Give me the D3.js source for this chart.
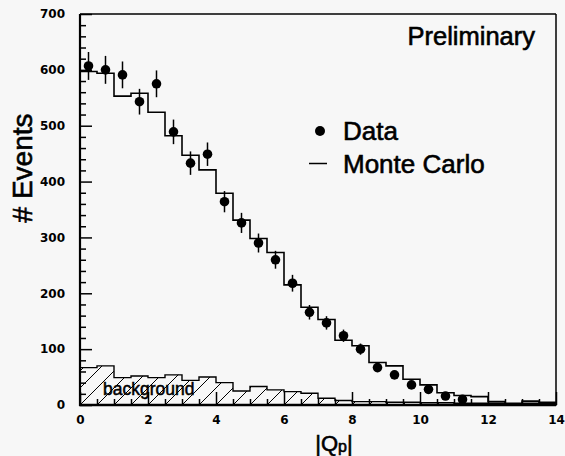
<!DOCTYPE html>
<html>
<head>
<meta charset="utf-8">
<script src="https://cdn.jsdelivr.net/npm/d3@7/dist/d3.min.js"></script>
<style>
  html, body { margin: 0; padding: 0; background: #f7f7f7; }
  svg { display: block; }
</style>
</head>
<body>
<svg id="chart" width="565" height="456"></svg>
<script>
// |Qp| distribution: data points with Poisson errors, Monte Carlo histogram, background histogram
const binEdgesStart = 0, binWidth = 0.5;

// data points at bin centres 0.25 ... 11.25
const dataX = [0.25, 0.75, 1.25, 1.75, 2.25, 2.75, 3.25, 3.75, 4.25, 4.75, 5.25, 5.75,
               6.25, 6.75, 7.25, 7.75, 8.25, 8.75, 9.25, 9.75, 10.25, 10.75, 11.25];
const dataY = [607, 600, 591, 543, 575, 489, 433, 449, 364, 326, 290, 260,
               218, 166, 147, 124, 100, 67, 54, 36, 28, 16, 10];
const dataErr = [25, 25, 24, 23, 24, 22, 21, 21, 19, 18, 17, 16,
                 15, 13, 12, 11, 10, 8, 7, 6, 5, 4, 3];

// Monte Carlo histogram, bins of 0.5 from 0 to 14
const mcCounts = [597, 594, 553, 558, 524, 482, 447, 421, 379, 331, 298, 273,
                  215, 175, 153, 116, 106, 76, 70, 46, 36, 22, 17, 15, 6, 3, 7, 5];

// background histogram, same binning
const bgCounts = [67, 70, 49, 52, 49, 54, 44, 50, 40, 25, 33, 27,
                  24, 21, 12, 8, 6, 6, 5, 5, 4, 4, 3, 3, 3, 2, 3, 3];

const xMajor = [0, 2, 4, 6, 8, 10, 12, 14];
const yMajor = [0, 100, 200, 300, 400, 500, 600, 700];

const svg = d3.select("#chart");
const x = d3.scaleLinear().domain([0, 14]).range([80, 556]);
const y = d3.scaleLinear().domain([0, 700]).range([405, 14]);

const font = "Liberation Sans, Arial, Helvetica, sans-serif";
const tickFont = "DejaVu Sans, sans-serif";

// hatch pattern for the background histogram
const defs = svg.append("defs");
const pat = defs.append("pattern")
  .attr("id", "hatch").attr("patternUnits", "userSpaceOnUse")
  .attr("width", 17).attr("height", 17)
  .attr("patternTransform", "translate(80,405)");
pat.append("path").attr("d", "M0,17 L17,0 M-4,4 L4,-4 M13,21 L21,13")
  .attr("stroke", "#000").attr("stroke-width", 1);

// turn counts into a step outline
function stepPoints(counts) {
  const pts = [[binEdgesStart, 0]];
  counts.forEach((c, i) => {
    const x0 = binEdgesStart + i * binWidth;
    pts.push([x0, c], [x0 + binWidth, c]);
  });
  pts.push([binEdgesStart + counts.length * binWidth, 0]);
  return pts;
}
const line = d3.line().x(d => x(d[0])).y(d => y(d[1]));

// background: hatched area with outline
const bgPts = stepPoints(bgCounts);
svg.append("path").attr("d", line(bgPts) + "Z")
  .attr("fill", "url(#hatch)").attr("stroke", "#000").attr("stroke-width", 1.4);

// background label
svg.append("text").attr("x", 103).attr("y", 395)
  .attr("font-family", font).attr("font-size", 17.5)
  .attr("fill", "#000").attr("stroke", "#000").attr("stroke-width", 0.5)
  .text("background");

// Monte Carlo histogram outline
const mcPts = stepPoints(mcCounts).slice(1);
svg.append("path").attr("d", line(mcPts))
  .attr("fill", "none").attr("stroke", "#000").attr("stroke-width", 1.6);

// axes with inward ticks
const yMinor = d3.range(0, 701, 20).filter(v => v % 100 !== 0);
const xMinor = d3.range(0, 14.01, 0.5).filter(v => v % 2 !== 0);

function styleTicks(g) {
  g.select(".domain").remove();
  g.selectAll("line").attr("stroke-width", 1.5);
  g.selectAll("text").attr("font-family", tickFont).attr("font-weight", "bold")
    .attr("font-size", 12).attr("fill", "#000");
}

svg.append("g").attr("transform", "translate(80,0)")
  .call(d3.axisLeft(y).tickValues(yMinor).tickSize(-6).tickFormat(""))
  .call(styleTicks);
svg.append("g").attr("transform", "translate(80,0)")
  .call(d3.axisLeft(y).tickValues(yMajor).tickSize(-12).tickPadding(15).tickFormat(d3.format("d")))
  .call(styleTicks);

svg.append("g").attr("transform", "translate(0,405)")
  .call(d3.axisBottom(x).tickValues(xMinor).tickSize(-6).tickFormat(""))
  .call(styleTicks);
svg.append("g").attr("transform", "translate(0,405)")
  .call(d3.axisBottom(x).tickValues(xMajor).tickSize(-13).tickPadding(10).tickFormat(d3.format("d")))
  .call(styleTicks);

// frame
svg.append("line").attr("x1", x(0)).attr("x2", x(14)).attr("y1", y(700)).attr("y2", y(700))
  .attr("stroke", "#000").attr("stroke-width", 1.5);
svg.append("line").attr("x1", x(14)).attr("x2", x(14)).attr("y1", y(700)).attr("y2", y(0))
  .attr("stroke", "#000").attr("stroke-width", 1.5);
svg.append("line").attr("x1", x(0)).attr("x2", x(0)).attr("y1", y(700)).attr("y2", y(0) + 1)
  .attr("stroke", "#000").attr("stroke-width", 2.2);
svg.append("line").attr("x1", x(0) - 1).attr("x2", x(14)).attr("y1", y(0)).attr("y2", y(0))
  .attr("stroke", "#000").attr("stroke-width", 2.4);

// data: error bars and markers
const pts = dataX.map((v, i) => ({ x: v, y: dataY[i], e: dataErr[i] }));
svg.append("g").selectAll("line").data(pts).join("line")
  .attr("x1", d => x(d.x)).attr("x2", d => x(d.x))
  .attr("y1", d => y(d.y + d.e)).attr("y2", d => y(d.y - d.e))
  .attr("stroke", "#000").attr("stroke-width", 1.5);
svg.append("g").selectAll("circle").data(pts).join("circle")
  .attr("cx", d => x(d.x)).attr("cy", d => y(d.y)).attr("r", 4.8).attr("fill", "#000");

// legend
svg.append("circle").attr("cx", 320).attr("cy", 131).attr("r", 5).attr("fill", "#000");
svg.append("text").attr("x", 343).attr("y", 140).attr("font-family", font).attr("font-size", 26)
  .attr("stroke", "#000").attr("stroke-width", 0.6).text("Data");
svg.append("line").attr("x1", 309).attr("x2", 327).attr("y1", 163.5).attr("y2", 163.5)
  .attr("stroke", "#000").attr("stroke-width", 1.5);
svg.append("text").attr("x", 343).attr("y", 173).attr("font-family", font).attr("font-size", 26)
  .attr("stroke", "#000").attr("stroke-width", 0.6).text("Monte Carlo");

// annotation
svg.append("text").attr("x", 535).attr("y", 45).attr("text-anchor", "end")
  .attr("font-family", font).attr("font-size", 25.5)
  .attr("stroke", "#000").attr("stroke-width", 0.6).text("Preliminary");

// axis titles
svg.append("text").attr("transform", "translate(32,168) rotate(-90)").attr("text-anchor", "middle")
  .attr("font-family", font).attr("font-size", 28)
  .attr("stroke", "#000").attr("stroke-width", 0.6).text("# Events");
const xt = svg.append("text").attr("x", 334).attr("y", 451).attr("text-anchor", "middle")
  .attr("font-family", font).attr("font-size", 22).attr("stroke", "#000").attr("stroke-width", 0.6);
xt.append("tspan").text("|Q");
xt.append("tspan").attr("font-size", 16).attr("dy", 1).text("p");
xt.append("tspan").attr("dy", -1).text("|");
</script>
</body>
</html>
